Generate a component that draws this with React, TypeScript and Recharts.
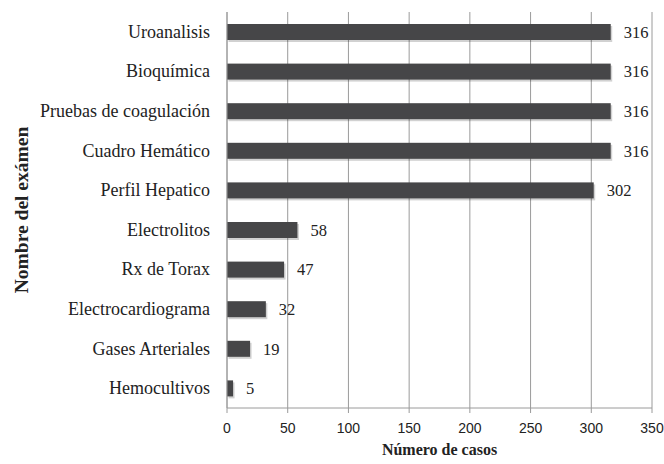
import React from 'react';
import { BarChart, Bar, XAxis, YAxis, CartesianGrid, LabelList } from 'recharts';

const examenes = [
    'Uroanalisis',
    'Bioquímica',
    'Pruebas de coagulación',
    'Cuadro Hemático',
    'Perfil Hepatico',
    'Electrolitos',
    'Rx de Torax',
    'Electrocardiograma',
    'Gases Arteriales',
    'Hemocultivos',
];
const casos = [316, 316, 316, 316, 302, 58, 47, 32, 19, 5];
const xTicks = [0, 50, 100, 150, 200, 250, 300, 350];

const SERIF = '"Liberation Serif", "Times New Roman", serif';
const SANS = '"Liberation Sans", Arial, sans-serif';
const GRID = '#9a9a9a';
const BAR = '#464648';

const data = examenes.map((name, i) => ({ name, casos: casos[i] }));

// bar with a faint drop shadow like the original Excel export
const ShadowBar = (props: any) => {
    const { x, y, width, height } = props;
    if (!width || width <= 0) return null;
    return (
        <g>
            <rect x={x + 1.5} y={y + 2} width={width} height={height} fill="#000" opacity={0.18} />
            <rect x={x} y={y} width={width} height={height} fill={BAR} />
        </g>
    );
};

const YTick = (props: any) => {
    const { x, y, payload } = props;
    return (
        <text x={x} y={y} dy={6} textAnchor="end" fill="#222" style={{ fontFamily: SERIF, fontSize: 18 }}>
            {payload.value}
        </text>
    );
};

const XTick = (props: any) => {
    const { x, y, payload } = props;
    return (
        <text x={x} y={y} dy={13} textAnchor="middle" fill="#222" style={{ fontFamily: SANS, fontSize: 14 }}>
            {payload.value}
        </text>
    );
};

export default function App() {
    return (
        <div style={{ position: 'absolute', left: 0, top: 0, width: 664, height: 464, background: '#fff' }}>
            <BarChart
                width={664}
                height={464}
                data={data}
                layout="vertical"
                margin={{ top: 12, right: 12, bottom: 26, left: 30 }}
                barSize={16}
            >
                <CartesianGrid horizontal={false} stroke={GRID} strokeWidth={1} />
                <XAxis
                    type="number"
                    domain={[0, 350]}
                    ticks={xTicks}
                    interval={0}
                    height={30}
                    stroke={GRID}
                    tickSize={5}
                    tickMargin={7}
                    tick={<XTick />}
                    label={{
                        value: 'Número de casos',
                        position: 'bottom',
                        offset: 6,
                        style: { fill: '#222', fontSize: 16, fontWeight: 'bold', fontFamily: SERIF },
                    }}
                />
                <YAxis
                    type="category"
                    dataKey="name"
                    width={197}
                    stroke={GRID}
                    tickLine={false}
                    tickSize={6}
                    tickMargin={11}
                    interval={0}
                    tick={<YTick />}
                    label={{
                        value: 'Nombre del exámen',
                        angle: -90,
                        position: 'left',
                        offset: 9,
                        style: { fill: '#222', fontSize: 19.5, fontWeight: 'bold', fontFamily: SERIF, textAnchor: 'middle' },
                    }}
                />
                <Bar dataKey="casos" shape={<ShadowBar />} isAnimationActive={false}>
                    <LabelList
                        dataKey="casos"
                        position="right"
                        offset={13}
                        style={{ fill: '#222', fontSize: 16.5, fontFamily: SERIF }}
                    />
                </Bar>
            </BarChart>
        </div>
    );
}
